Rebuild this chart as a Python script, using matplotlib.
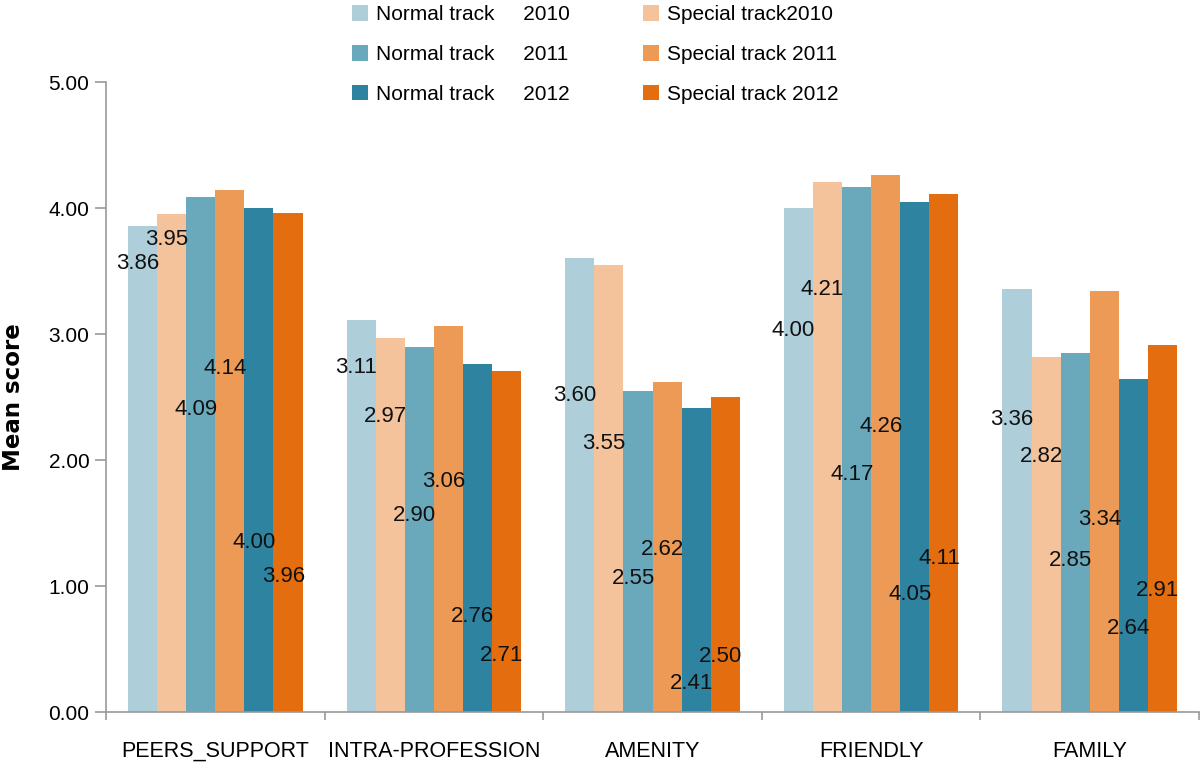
import matplotlib
matplotlib.use("Agg")
import matplotlib.pyplot as plt
import numpy as np

categories = ["PEERS_SUPPORT", "INTRA-PROFESSION", "AMENITY", "FRIENDLY", "FAMILY"]
series_names = ["Normal track     2010", "Special track2010",
                "Normal track     2011", "Special track 2011",
                "Normal track     2012", "Special track 2012"]
normal_2010 = [3.86, 3.11, 3.60, 4.00, 3.36]
special_2010 = [3.95, 2.97, 3.55, 4.21, 2.82]
normal_2011 = [4.09, 2.90, 2.55, 4.17, 2.85]
special_2011 = [4.14, 3.06, 2.62, 4.26, 3.34]
normal_2012 = [4.00, 2.76, 2.41, 4.05, 2.64]
special_2012 = [3.96, 2.71, 2.50, 4.11, 2.91]
series = [normal_2010, special_2010, normal_2011, special_2011, normal_2012, special_2012]
colors = ["#aecfd9", "#f4c39c", "#6aa8bb", "#ec9a55", "#2e84a0", "#e46d10"]

# layout: vertical positions (in axis units) of the value labels, per series
label_y = [
    [3.556, 2.736, 2.510, 3.024, 2.323],
    [3.752, 2.349, 2.133, 3.355, 2.026],
    [2.402, 1.556, 1.061, 1.881, 1.206],
    [2.728, 1.833, 1.286, 2.264, 1.529],
    [1.347, 0.756, 0.228, 0.929, 0.664],
    [1.074, 0.452, 0.439, 1.220, 0.968],
]

W, H = 1200, 764
fig = plt.figure(figsize=(W / 100, H / 100), dpi=100)
ax = fig.add_axes([106 / W, 1 - 712 / H, (1199 - 106) / W, (712 - 82) / H])

font = "Liberation Sans"

n = len(series)
bw = 0.133
x = np.arange(len(categories)) + 0.5
bars = []
for i, (vals, c) in enumerate(zip(series, colors)):
    pos = x + (i - (n - 1) / 2) * bw
    b = ax.bar(pos, vals, width=bw, color=c, label=series_names[i], linewidth=0)
    bars.append(b)
    for j, v in enumerate(vals):
        ax.text(pos[j] - 0.022, label_y[i][j], f"{v:.2f}", ha="center", va="center",
                fontsize=16, family=font, color="#111111")

ax.set_xlim(0, len(categories))
ax.set_ylim(0, 5)
yt = np.arange(0, 5.01, 1.0)
ax.set_yticks(yt)
ax.set_yticklabels([f"{t:.2f}" for t in yt], family=font, fontsize=15)
ax.set_xticks(x)
ax.set_xticklabels(categories, family=font, fontsize=15.5)
ax.set_xticks(np.arange(0, len(categories) + 1), minor=True)
ax.tick_params(axis="x", which="major", length=0, pad=21)
ax.tick_params(axis="x", which="minor", length=6, color="#999999", width=1.2)
ax.tick_params(axis="y", length=8, color="#999999", width=1.2, pad=4)
for s in ["top", "right"]:
    ax.spines[s].set_visible(False)
for s in ["left", "bottom"]:
    ax.spines[s].set_color("#999999")
    ax.spines[s].set_linewidth(1.2)

fig.text(14 / W, 1 - 397 / H, "Mean score", rotation=90, ha="center", va="center",
         family="DejaVu Sans", fontsize=16.5, fontweight="bold")

order = [0, 2, 4, 1, 3, 5]
leg = fig.legend([bars[k] for k in order], [series_names[k] for k in order],
                 loc="upper left", bbox_to_anchor=(344 / W, 1 + 3 / H),
                 borderaxespad=0, ncol=2, frameon=False,
                 prop={"family": font, "size": 15},
                 handlelength=0.75, handleheight=0.75, handletextpad=0.4,
                 columnspacing=3.5, labelspacing=1.0)

fig.savefig("out.png", dpi=100)
